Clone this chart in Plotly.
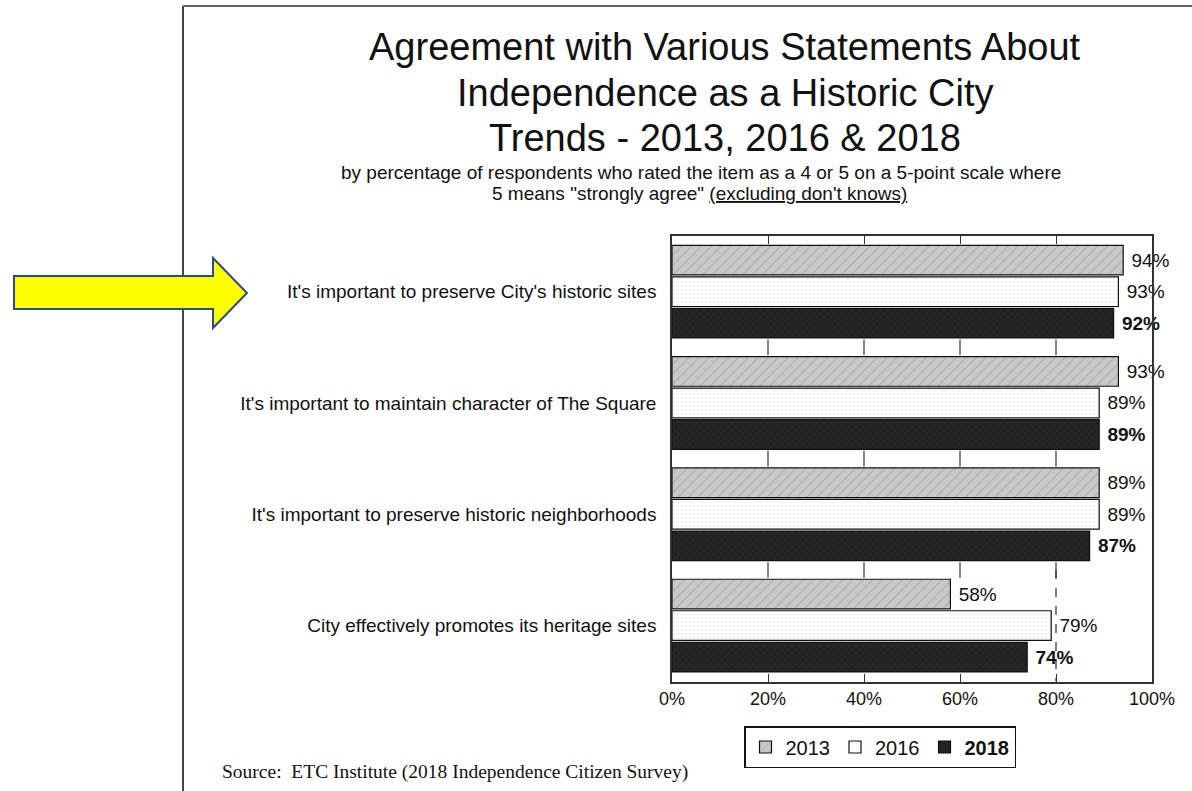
import plotly.graph_objects as go

categories = [
    "It's important to preserve City's historic sites",
    "It's important to maintain character of The Square",
    "It's important to preserve historic neighborhoods",
    "City effectively promotes its heritage sites",
]
years = ["2013", "2016", "2018"]
v2013 = [94, 93, 89, 58]
v2016 = [93, 89, 89, 79]
v2018 = [92, 89, 87, 74]
xticks = [0, 20, 40, 60, 80, 100]
xticklabels = ["0%", "20%", "40%", "60%", "80%", "100%"]

W, H = 1192, 791
L, R, T, B = 672, 1152, 236, 682


def px(x):
    return (x - L) / (R - L)


def py(y):
    return (B - y) / (B - T)


styles = {
    "2013": dict(color="#c9c9c9", pattern=dict(shape="/", fgcolor="#8a8a8a", size=7, solidity=0.15)),
    "2016": dict(color="#ffffff", pattern=dict(shape=".", fgcolor="#c4c4c4", size=4, solidity=0.15)),
    "2018": dict(color="#222222", pattern=dict(shape="x", fgcolor="#3c3c3c", size=5, solidity=0.2)),
}

fig = go.Figure()
for yr, vals in zip(years, [v2013, v2016, v2018]):
    st = styles[yr]
    tmpl = " <b>%{x}%</b>" if yr == "2018" else " %{x}%"
    fig.add_trace(go.Bar(
        y=categories, x=vals, orientation="h", name=("<b>2018</b>" if yr == "2018" else yr),
        marker=dict(color=st["color"], pattern=st["pattern"], line=dict(color="#111111", width=1.2)),
        texttemplate=tmpl, textposition="outside", cliponaxis=False, constraintext="none",
        textfont=dict(family="Liberation Sans, Arial", size=19, color="#111111"),
        hoverinfo="skip",
    ))

shapes = []
# inner tick marks between groups
for i in range(len(categories) - 1):
    for t in xticks[1:-1]:
        shapes.append(dict(type="line", xref="x", yref="y", x0=t, x1=t, y0=i + 0.5 - 0.07, y1=i + 0.5 + 0.07,
                           line=dict(color="#333333", width=1.2)))
# dashed 80% line in bottom group
shapes.append(dict(type="line", xref="x", yref="y", x0=80, x1=80, y0=2.5, y1=3.5,
                   line=dict(color="#555555", width=1.5, dash="dash"), layer="below"))
# page border lines
shapes.append(dict(type="line", xref="paper", yref="paper", x0=px(183), x1=px(183), y0=py(6), y1=py(791),
                   line=dict(color="#444444", width=2)))
shapes.append(dict(type="line", xref="paper", yref="paper", x0=px(183), x1=px(1192), y0=py(6), y1=py(6),
                   line=dict(color="#666666", width=2)))
# yellow arrow
pts = [(14, 276), (213, 276), (213, 258), (247, 293), (213, 328), (213, 309), (14, 309)]
path = "M " + " L ".join(f"{px(a):.5f},{py(b):.5f}" for a, b in pts) + " Z"
shapes.append(dict(type="path", xref="paper", yref="paper", path=path,
                   fillcolor="#ffff00", line=dict(color="#2f4a8a", width=2)))

ann = []
title_lines = [
    ("Agreement with Various Statements About", 47),
    ("Independence as a Historic City", 93),
    ("Trends - 2013, 2016 & 2018", 138),
]
for txt, yy in title_lines:
    ann.append(dict(text=txt, x=px(725), y=py(yy), xref="paper", yref="paper", showarrow=False,
                    xanchor="center", yanchor="middle",
                    font=dict(family="Liberation Sans, Arial", size=38, color="#111111")))
ann.append(dict(text="by percentage of respondents who rated the item as a 4 or 5 on a 5-point scale where",
                x=px(701), y=py(172), xref="paper", yref="paper", showarrow=False, xanchor="center",
                yanchor="middle", font=dict(family="Liberation Sans, Arial", size=19, color="#111111")))
ann.append(dict(text="5 means \"strongly agree\" <u>(excluding don't knows)</u>",
                x=px(699), y=py(194), xref="paper", yref="paper", showarrow=False, xanchor="center",
                yanchor="middle", font=dict(family="Liberation Sans, Arial", size=19, color="#111111")))
ann.append(dict(text="Source:  ETC Institute (2018 Independence Citizen Survey)",
                x=px(220), y=py(772), xref="paper", yref="paper", showarrow=False, xanchor="left",
                yanchor="middle", font=dict(family="Liberation Serif, Times New Roman", size=19.5, color="#111111")))

fig.update_layout(
    width=W, height=H,
    margin=dict(l=L, r=W - R, t=T, b=H - B, pad=0),
    paper_bgcolor="white", plot_bgcolor="white",
    barmode="group", bargap=0.15, bargroupgap=0.06,
    showlegend=True,
    legend=dict(orientation="h", x=px(880), y=py(726), xanchor="center", yanchor="top",
                bordercolor="#111111", borderwidth=1.5, bgcolor="white",
                font=dict(family="Liberation Sans, Arial", size=20, color="#111111"),
                itemwidth=30, traceorder="normal", tracegroupgap=0),
    xaxis=dict(range=[0, 100], tickvals=xticks, ticktext=xticklabels, ticks="inside", ticklen=8,
               tickwidth=1.2, tickcolor="#333333", showline=True, linecolor="#333333", linewidth=1.5,
               mirror="ticks", showgrid=False, zeroline=False,
               tickfont=dict(family="Liberation Sans, Arial", size=18, color="#111111")),
    yaxis=dict(autorange="reversed", showline=True, linecolor="#333333", linewidth=1.5, mirror=True,
               ticks="", showgrid=False, ticklabelstandoff=10,
               tickfont=dict(family="Liberation Sans, Arial", size=19, color="#111111")),
    shapes=shapes, annotations=ann,
)

fig.write_html("out.html")
